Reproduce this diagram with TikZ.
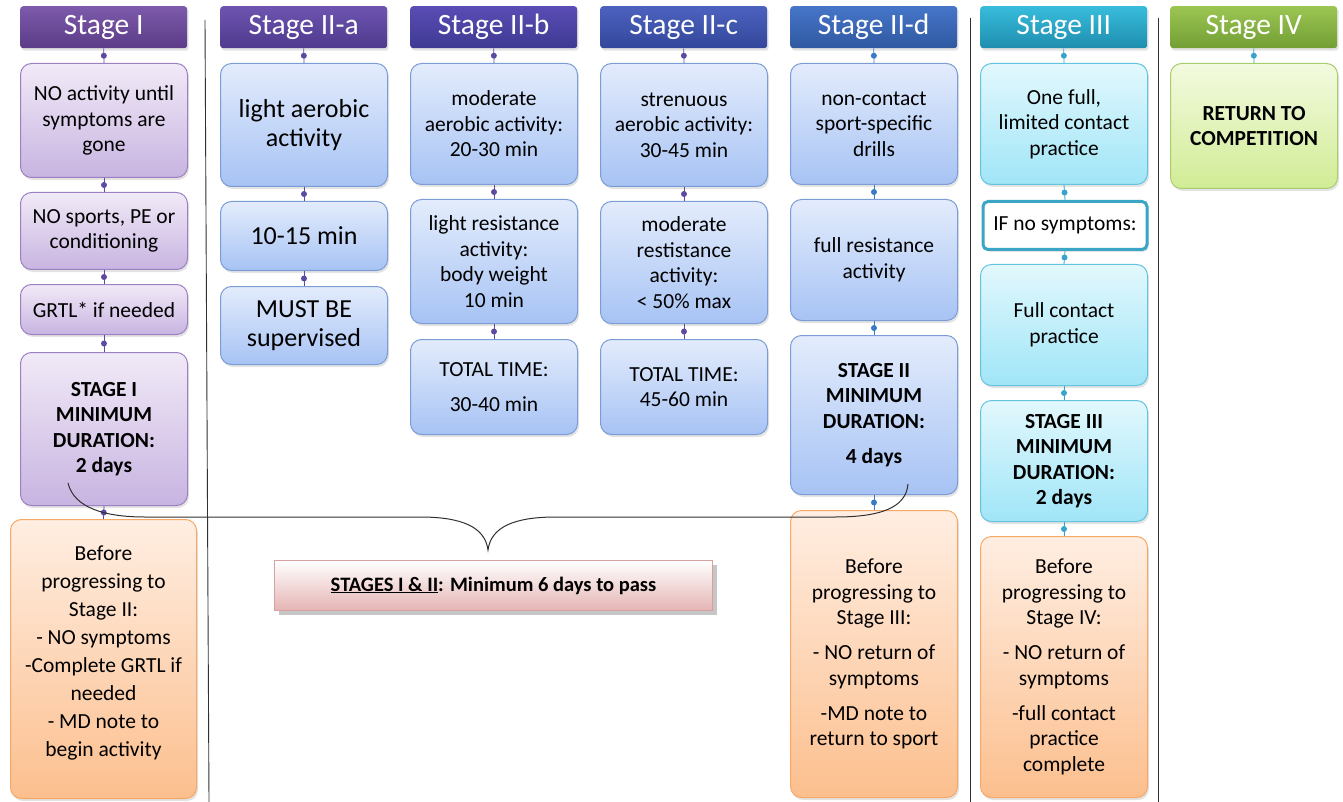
\documentclass[tikz,border=0pt]{standalone}
\usepackage{fontspec}
\setmainfont{Carlito}
\usetikzlibrary{shadows}
\newcommand\bodyfont{\fontsize{21.5}{25.5}\selectfont}
\newcommand\bigbodyfont{\fontsize{26}{28.5}\selectfont}
\newcommand\hdrfont{\fontsize{29.5}{31}\selectfont}
\newcommand\notefont{\fontsize{20.5}{22}\selectfont\bfseries}
\definecolor{hIt}{HTML}{7D5AAB}\definecolor{hIb}{HTML}{5B3C88}
\definecolor{hIIat}{HTML}{6E54B0}\definecolor{hIIab}{HTML}{4E3A8E}
\definecolor{hIIbt}{HTML}{5A4CB5}\definecolor{hIIbb}{HTML}{3E3A92}
\definecolor{hIIct}{HTML}{4C62BF}\definecolor{hIIcb}{HTML}{33479A}
\definecolor{hIIdt}{HTML}{4676C9}\definecolor{hIIdb}{HTML}{2F58A0}
\definecolor{hIIIt}{HTML}{38BCDC}\definecolor{hIIIb}{HTML}{1F8EAE}
\definecolor{hIVt}{HTML}{9CC653}\definecolor{hIVb}{HTML}{729E34}
\definecolor{pT}{HTML}{F1EAF7}\definecolor{pB}{HTML}{C8B4E1}\definecolor{pD}{HTML}{9D80C2}
\definecolor{bT}{HTML}{E3ECFC}\definecolor{bB}{HTML}{A7C3F4}\definecolor{bD}{HTML}{7B9CD4}
\definecolor{cT}{HTML}{E2F8FD}\definecolor{cB}{HTML}{A0E5F7}\definecolor{cD}{HTML}{63C4DD}
\definecolor{gT}{HTML}{F3FADF}\definecolor{gB}{HTML}{D1EC96}\definecolor{gD}{HTML}{A8CD6C}
\definecolor{oT}{HTML}{FFEEE2}\definecolor{oB}{HTML}{FCBF8E}\definecolor{oD}{HTML}{F6A866}
\definecolor{rT}{HTML}{FFFFFF}\definecolor{rB}{HTML}{E6B4B4}\definecolor{rD}{HTML}{D9A0A0}
\definecolor{ifD}{HTML}{3AA5C5}
\definecolor{dotP}{HTML}{5E4AA0}\definecolor{dotB}{HTML}{3B7AC7}\definecolor{dotC}{HTML}{3AA3CC}
\definecolor{lineC}{HTML}{303030}
\tikzset{
  shad/.style={drop shadow={opacity=0.22,shadow xshift=1.5pt,shadow yshift=-2.5pt}},
  hdr/.style={shad,rounded corners=3pt,minimum width=167pt,minimum height=42pt,inner sep=0pt,
              anchor=north west,text=white,font=\hdrfont},
  base/.style={shad,rounded corners=11pt,line width=1pt,align=center,inner sep=0pt,
               minimum width=167pt,anchor=north west,font=\bodyfont,text=black},
  pbox/.style={base,draw=pD,top color=pT,bottom color=pB},
  bbox/.style={base,draw=bD,top color=bT,bottom color=bB},
  cbox/.style={base,draw=cD,top color=cT,bottom color=cB},
  gbox/.style={base,draw=gD,top color=gT,bottom color=gB},
  obox/.style={base,draw=oD,top color=oT,bottom color=oB},
  ifbox/.style={shad,rounded corners=5pt,line width=3pt,draw=ifD,fill=white,align=center,
                inner sep=0pt,minimum width=164pt,anchor=north west,font=\bodyfont},
  conn/.style={line width=0.8pt,draw=#1},
  cdot/.style={circle,fill=#1,inner sep=0pt,minimum size=6pt},
  sep/.style={line width=0.9pt,draw=lineC},
  bracepath/.style={line width=1pt,draw=lineC},
}
\newcommand\link[3]{\draw[conn=#3] (#1.south) -- (#2.north) node[midway,cdot=#3]{};}
\begin{document}
\begin{tikzpicture}[x=1pt,y=-1pt]
\useasboundingbox (0,0) rectangle (1343,802);
% separators
\coordinate (s1t) at (205,20);\coordinate (s1b) at (209,802);
\coordinate (s2t) at (970,18);\coordinate (s2b) at (970,802);
\coordinate (s3t) at (1158,18);\coordinate (s3b) at (1158,802);
\draw[sep] (s1t) -- (s1b);
\draw[sep] (s2t) -- (s2b);
\draw[sep] (s3t) -- (s3b);
% headers
\node[hdr,top color=hIt,bottom color=hIb] (hI) at (20,6) {Stage I};
\node[hdr,top color=hIIat,bottom color=hIIab] (hIIa) at (220,6) {Stage II-a};
\node[hdr,top color=hIIbt,bottom color=hIIbb] (hIIb) at (410,6) {Stage II-b};
\node[hdr,top color=hIIct,bottom color=hIIcb] (hIIc) at (600,6) {Stage II-c};
\node[hdr,top color=hIIdt,bottom color=hIIdb] (hIId) at (790,6) {Stage II-d};
\node[hdr,top color=hIIIt,bottom color=hIIIb] (hIII) at (980,6) {Stage III};
\node[hdr,top color=hIVt,bottom color=hIVb] (hIV) at (1170,6) {Stage IV};
% Stage I
\node[pbox,minimum height=114pt] (I1) at (20,63) {NO activity until\\symptoms are\\gone};
\node[pbox,minimum height=77pt] (I2) at (20,192) {NO sports, PE or\\conditioning};
\node[pbox,minimum height=50pt] (I3) at (20,284) {GRTL* if needed};
\node[pbox,minimum height=153pt,font=\bodyfont\bfseries] (I4) at (20,352) {STAGE I\\MINIMUM\\DURATION:\\2 days};
\node[obox,minimum width=186pt,minimum height=279pt,font=\fontsize{21.5}{28}\selectfont] (IO) at (10,519)
  {\begin{tabular}{@{}c@{}}Before\\progressing to\\Stage II:\\- NO symptoms\\-Complete GRTL if\\needed\\- MD note to\\begin activity\\[12pt]\end{tabular}};
% Stage II-a
\node[bbox,minimum height=123pt,font=\bigbodyfont] (A1) at (220,63) {light aerobic\\activity};
\node[bbox,minimum height=69pt,font=\bigbodyfont] (A2) at (220,201) {10-15 min};
\node[bbox,minimum height=78pt,font=\bigbodyfont] (A3) at (220,286) {MUST BE\\supervised};
% Stage II-b
\node[bbox,minimum height=121pt] (B1) at (410,63) {moderate\\aerobic activity:\\20-30 min};
\node[bbox,minimum height=124pt] (B2) at (410,199) {light resistance\\activity:\\body weight\\10 min};
\node[bbox,minimum height=95pt] (B3) at (410,339) {TOTAL TIME:\\[9.5pt]30-40 min};
% Stage II-c
\node[bbox,minimum height=123pt] (C1) at (600,63) {strenuous\\aerobic activity:\\30-45 min};
\node[bbox,minimum height=122pt] (C2) at (600,201) {moderate\\restistance\\activity:\\< 50\% max};
\node[bbox,minimum height=95pt] (C3) at (600,339) {TOTAL TIME:\\45-60 min};
% Stage II-d
\node[bbox,minimum height=121pt] (D1) at (790,63) {non-contact\\sport-specific\\drills};
\node[bbox,minimum height=121pt] (D2) at (790,199) {full resistance\\activity};
\node[bbox,minimum height=159pt,font=\bodyfont\bfseries] (D3) at (790,335) {STAGE II\\MINIMUM\\DURATION:\\[9.5pt]4 days};
\node[obox,minimum height=287pt] (DO) at (790,510)
  {Before\\progressing to\\Stage III:\\[9.5pt]- NO return of\\symptoms\\[9.5pt]-MD note to\\return to sport};
% Stage III
\node[cbox,minimum height=121pt] (E1) at (980,63) {One full,\\limited contact\\practice};
\node[ifbox,minimum height=48pt] (E2) at (981.5,200) {IF no symptoms:};
\node[cbox,minimum height=121pt] (E3) at (980,264) {Full contact\\practice};
\node[cbox,minimum height=121pt,font=\bodyfont\bfseries] (E4) at (980,400) {STAGE III\\MINIMUM\\DURATION:\\2 days};
\node[obox,minimum height=261pt] (EO) at (980,536)
  {Before\\progressing to\\Stage IV:\\[9.5pt]- NO return of\\symptoms\\[9.5pt]-full contact\\practice\\complete};
% Stage IV
\node[gbox,minimum height=125pt,font=\bodyfont\bfseries] (F1) at (1170,63) {RETURN TO\\COMPETITION};
% connectors
\link{hI}{I1}{dotP}\link{I1}{I2}{dotP}\link{I2}{I3}{dotP}\link{I3}{I4}{dotP}\link{I4}{IO}{dotP}
\link{hIIa}{A1}{dotP}\link{A1}{A2}{dotP}\link{A2}{A3}{dotP}
\link{hIIb}{B1}{dotP}\link{B1}{B2}{dotP}\link{B2}{B3}{dotP}
\link{hIIc}{C1}{dotP}\link{C1}{C2}{dotP}\link{C2}{C3}{dotP}
\link{hIId}{D1}{dotB}\link{D1}{D2}{dotB}\link{D2}{D3}{dotB}\link{D3}{DO}{dotB}
\link{hIII}{E1}{dotC}\link{E1}{E2}{dotC}\link{E2}{E3}{dotC}\link{E3}{E4}{dotC}\link{E4}{EO}{dotC}
\link{hIV}{F1}{dotC}
% brace
\coordinate (brL) at (68,483);
\coordinate (brM) at (488,550);
\coordinate (brR) at (908,484);
\draw[bracepath] (brL) .. controls (74,508) and (105,517) .. (145,517) -- (420,517)
   .. controls (462,517) and (485,527) .. (brM)
   .. controls (491,527) and (514,517) .. (556,517) -- (835,517)
   .. controls (880,517) and (906,508) .. (brR);
% note box
\node[draw=rD,line width=1pt,top color=rT,bottom color=rB,minimum width=438pt,minimum height=50pt,
      inner sep=0pt,anchor=north west,font=\notefont,
      drop shadow={opacity=0.45,shadow xshift=4pt,shadow yshift=-4pt}] (note) at (274,560)
  {\underline{STAGES I \& II}: Minimum 6 days to pass};
\end{tikzpicture}
\end{document}
